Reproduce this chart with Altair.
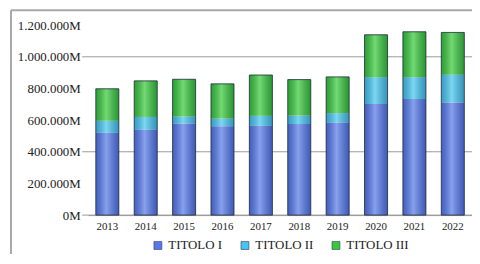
import altair as alt
import pandas as pd

years = ["2013", "2014", "2015", "2016", "2017", "2018", "2019", "2020", "2021", "2022"]
titolo_1 = [520000, 540000, 579000, 562000, 564000, 575000, 585000, 702000, 733000, 712000]
titolo_2 = [76000, 80000, 44000, 48000, 63000, 54000, 59000, 169000, 138000, 175000]
titolo_3 = [202000, 228000, 235000, 219000, 258000, 227000, 229000, 268000, 287000, 267000]
series = ["TITOLO I", "TITOLO II", "TITOLO III"]
colors = ["#5579e6", "#45c6ec", "#38c938"]
y_ticks = [0, 200000, 400000, 600000, 800000, 1000000, 1200000]
grid_values = [0.0, 400000.0, 1000000.0]

rows = []
for i, y in enumerate(years):
    for s, vals in zip(series, [titolo_1, titolo_2, titolo_3]):
        rows.append({"anno": y, "serie": s, "valore": vals[i]})
df = pd.DataFrame(rows)

FONT = "'Times New Roman', 'Liberation Serif', serif"
label_expr = "replace(format(datum.value, ','), regexp(',', 'g'), '.') + 'M'"

x_axis = alt.Axis(labelAngle=0, ticks=False, domain=True, title=None)
y_axis = alt.Axis(values=y_ticks, labelExpr=label_expr, domain=False, ticks=False,
                  grid=False, title=None, labelOverlap=False)
x_scale = alt.Scale(paddingInner=0.4, paddingOuter=0.2)
y_scale = alt.Scale(domain=[0, 1200000], nice=False)

grid = alt.Chart(pd.DataFrame({"v": grid_values})).mark_rule(color="#9a9a9a", strokeWidth=1).encode(
    y=alt.Y("v:Q", scale=y_scale, axis=y_axis),
    x=alt.value(-6), x2=alt.value(388),
)

bars = alt.Chart(df).mark_bar().encode(
    x=alt.X("anno:N", sort=years, scale=x_scale, axis=x_axis),
    y=alt.Y("valore:Q", stack="zero", scale=y_scale, axis=y_axis),
    color=alt.Color("serie:N", scale=alt.Scale(domain=series, range=colors),
                    legend=alt.Legend(title=None, orient="none", direction="horizontal",
                                      legendX=64, legendY=216, padding=0,
                                      symbolType="square", symbolSize=64,
                                      symbolStrokeColor="#333366", symbolStrokeWidth=0.6,
                                      labelOffset=4, columnPadding=16)),
    order=alt.Order("serie:N", sort="ascending"),
)

shine = alt.Chart(df).transform_aggregate(
    totale="sum(valore)", groupby=["anno"]
).mark_bar(
    fill=alt.Gradient(gradient="linear", x1=0, y1=0, x2=1, y2=0, stops=[
        alt.GradientStop(offset=0, color="rgba(0,0,40,0.2)"),
        alt.GradientStop(offset=0.45, color="rgba(255,255,255,0.3)"),
        alt.GradientStop(offset=1, color="rgba(0,0,40,0.25)"),
    ]),
    stroke="#1e2a3a", strokeWidth=0.8,
).encode(
    x=alt.X("anno:N", sort=years, scale=x_scale, axis=x_axis),
    y=alt.Y("totale:Q", scale=y_scale, axis=y_axis),
)

frame_df = pd.DataFrame({"a": [0]})
top_border = alt.Chart(frame_df).mark_rule(color="#a8a8a8", strokeWidth=2).encode(
    x=alt.value(-78), x2=alt.value(400), y=alt.value(-15))
left_border = alt.Chart(frame_df).mark_rule(color="#a8a8a8", strokeWidth=2).encode(
    x=alt.value(-78), y=alt.value(-15), y2=alt.value(300))

chart = alt.layer(grid, bars, shine, top_border, left_border).properties(
    width=388, height=192,
    autosize=alt.AutoSizeParams(type="none"),
    padding={"left": 81, "top": 16, "right": 0, "bottom": 38},
).configure_view(stroke=None).configure_axis(
    labelFont=FONT, labelColor="#222222",
).configure_axisX(
    labelFontSize=11, labelPadding=6, domainColor="#999999",
).configure_axisY(
    labelFontSize=13, labelPadding=8,
).configure_legend(
    labelFont=FONT, labelFontSize=13, labelColor="#222222",
)

chart.save("out.html", embed_options={"renderer": "svg", "actions": False})
